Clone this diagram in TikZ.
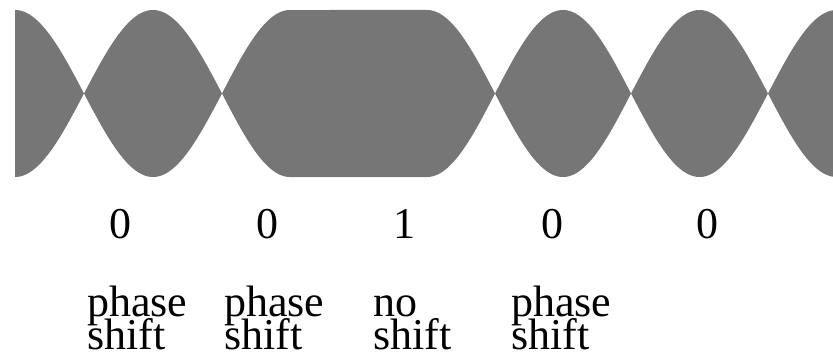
\documentclass[tikz,border=0pt]{standalone}
\usepackage{fontspec}
\setmainfont{Liberation Serif}
\definecolor{envgray}{RGB}{118,118,118}
\begin{document}
\begin{tikzpicture}[x=1pt,y=-1pt,
  env/.style={fill=envgray},
  bit/.style={inner sep=0pt,anchor=base,font=\fontsize{44}{44}\selectfont},
  lbl/.style={inner sep=0pt,anchor=base west,font=\fontsize{44}{44}\selectfont}]
\useasboundingbox (0,0) rectangle (833,353);
\def\cy{93.5}\def\am{83.5}
% left half lobe
\fill[env] plot[domain=15:84,samples=40] (\x,{\cy-\am*cos((\x-15)/69*90)})
  -- plot[domain=84:15,samples=40] (\x,{\cy+\am*cos((\x-15)/69*90)}) -- cycle;
% lobe 2
\fill[env] plot[domain=84:222,samples=60] (\x,{\cy-\am*sin((\x-84)/138*180)})
  -- plot[domain=222:84,samples=60] (\x,{\cy+\am*sin((\x-84)/138*180)}) -- cycle;
% flat lobe
\fill[env] plot[domain=222:290,samples=40] (\x,{\cy-\am*sin((\x-222)/68*90)})
  -- plot[domain=427:495,samples=40] (\x,{\cy-\am*cos((\x-427)/68*90)})
  -- plot[domain=495:427,samples=40] (\x,{\cy+\am*cos((\x-427)/68*90)})
  -- plot[domain=290:222,samples=40] (\x,{\cy+\am*sin((\x-222)/68*90)}) -- cycle;
% lobe 4
\fill[env] plot[domain=495:631,samples=60] (\x,{\cy-\am*sin((\x-495)/136*180)})
  -- plot[domain=631:495,samples=60] (\x,{\cy+\am*sin((\x-495)/136*180)}) -- cycle;
% lobe 5
\fill[env] plot[domain=631:768,samples=60] (\x,{\cy-\am*sin((\x-631)/137*180)})
  -- plot[domain=768:631,samples=60] (\x,{\cy+\am*sin((\x-631)/137*180)}) -- cycle;
% right partial lobe
\fill[env] plot[domain=768:833,samples=40] (\x,{\cy-\am*sin((\x-768)/68.5*90)})
  -- plot[domain=833:768,samples=40] (\x,{\cy+\am*sin((\x-768)/68.5*90)}) -- cycle;
% bits
\node[bit] (b1) at (120.5,238.5) {0};
\node[bit] (b2) at (267,238.5) {0};
\node[bit] (b3) at (404,238.5) {1};
\node[bit] (b4) at (552,238.5) {0};
\node[bit] (b5) at (707,238.5) {0};
% labels
\node[lbl] (l1a) at (87,316) {phase};
\node[lbl] (l1b) at (87,349) {shift};
\node[lbl] (l2a) at (224,316) {phase};
\node[lbl] (l2b) at (224,349) {shift};
\node[lbl] (l3a) at (373,316) {no};
\node[lbl] (l3b) at (373,349) {shift};
\node[lbl] (l4a) at (511,316) {phase};
\node[lbl] (l4b) at (511,349) {shift};
\end{tikzpicture}
\end{document}
